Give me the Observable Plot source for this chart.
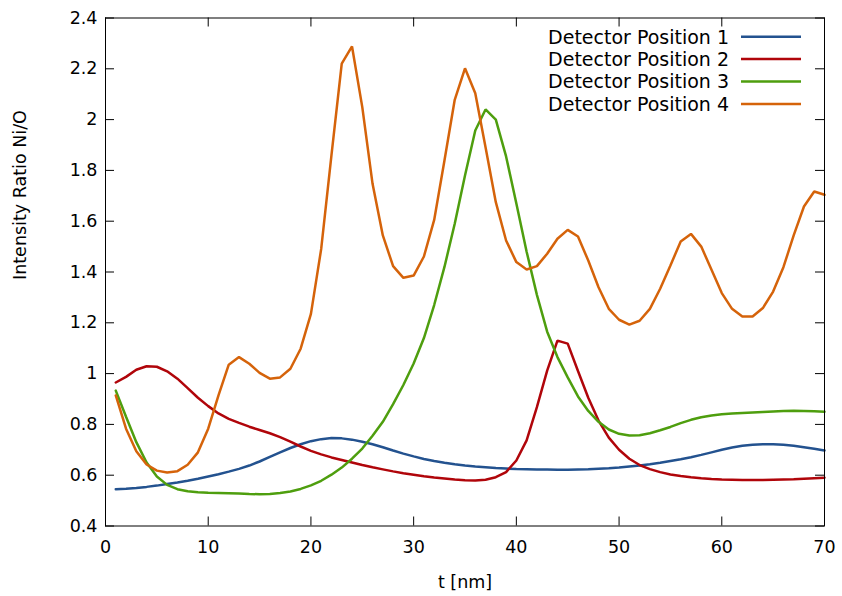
<!DOCTYPE html>
<html>
<head>
<meta charset="utf-8">
<script src="https://cdn.jsdelivr.net/npm/d3@7"></script>
<script src="https://cdn.jsdelivr.net/npm/@observablehq/plot@0.6"></script>
<style>
  body { margin: 0; background: #fff; }
  svg { display: block; }
</style>
</head>
<body>
<div id="chart"></div>
<script>
// Layer thickness t [nm], sampled every 1 nm
const thickness = d3.range(1, 71);

// Ni/O intensity ratio per detector position
const pos1 = [
  0.545, 0.547, 0.550, 0.554, 0.559, 0.565, 0.571, 0.578, 0.586, 0.595,
  0.604, 0.614, 0.625, 0.638, 0.654, 0.672, 0.690, 0.707, 0.722, 0.734,
  0.742, 0.746, 0.745, 0.740, 0.732, 0.722, 0.710, 0.697, 0.685, 0.674,
  0.664, 0.656, 0.649, 0.643, 0.638, 0.634, 0.631, 0.628, 0.626, 0.624,
  0.623, 0.622, 0.622, 0.621, 0.621, 0.622, 0.623, 0.625, 0.627, 0.630,
  0.634, 0.638, 0.643, 0.649, 0.656, 0.663, 0.671, 0.680, 0.690, 0.700,
  0.709, 0.716, 0.720, 0.722, 0.722, 0.720, 0.716, 0.710, 0.704, 0.697
];
const pos2 = [
  0.965, 0.987, 1.015, 1.029, 1.027, 1.009, 0.980, 0.943, 0.905, 0.872,
  0.843, 0.822, 0.806, 0.791, 0.778, 0.765, 0.750, 0.732, 0.713, 0.696,
  0.682, 0.670, 0.660, 0.650, 0.640, 0.631, 0.623, 0.615, 0.608, 0.602,
  0.596, 0.591, 0.587, 0.583, 0.580, 0.579, 0.582, 0.592, 0.612, 0.658,
  0.737, 0.868, 1.012, 1.130, 1.118, 1.010, 0.905, 0.815, 0.748, 0.700,
  0.665, 0.640, 0.624, 0.612, 0.603, 0.597, 0.592, 0.588, 0.585, 0.583,
  0.582, 0.581, 0.581, 0.581, 0.582, 0.583, 0.584, 0.586, 0.588, 0.590
];
const pos3 = [
  0.933, 0.830, 0.730, 0.650, 0.595, 0.562, 0.545, 0.537, 0.533, 0.531,
  0.530, 0.529, 0.528, 0.526, 0.525, 0.526, 0.530, 0.536, 0.546, 0.560,
  0.578, 0.602, 0.630, 0.665, 0.705, 0.755, 0.810, 0.880, 0.955, 1.040,
  1.140, 1.270, 1.420, 1.590, 1.780, 1.957, 2.040, 2.000, 1.855, 1.670,
  1.480, 1.310, 1.165, 1.065, 0.985, 0.910, 0.853, 0.810, 0.780, 0.763,
  0.756, 0.757, 0.765, 0.777, 0.790, 0.805, 0.818, 0.828, 0.835, 0.840,
  0.843, 0.845, 0.847, 0.849, 0.851, 0.853, 0.854, 0.853, 0.852, 0.850
];
const pos4 = [
  0.914, 0.783, 0.694, 0.642, 0.618, 0.611, 0.616, 0.641, 0.690, 0.783,
  0.914, 1.035, 1.065, 1.039, 1.003, 0.980, 0.985, 1.019, 1.098, 1.235,
  1.491, 1.860, 2.220, 2.288, 2.049, 1.747, 1.544, 1.423, 1.377, 1.386,
  1.461, 1.605, 1.839, 2.078, 2.202, 2.104, 1.891, 1.675, 1.524, 1.439,
  1.410, 1.423, 1.472, 1.531, 1.566, 1.540, 1.445, 1.340, 1.255, 1.212,
  1.193, 1.208, 1.255, 1.334, 1.426, 1.520, 1.550, 1.500, 1.409, 1.317,
  1.255, 1.225, 1.225, 1.258, 1.323, 1.419, 1.544, 1.658, 1.717, 1.704
];

const seriesNames = ["Detector Position 1", "Detector Position 2", "Detector Position 3", "Detector Position 4"];
const seriesValues = [pos1, pos2, pos3, pos4];
const seriesColors = ["#23528f", "#b0050a", "#4e9e0e", "#d5630a"];

const xTicks = [0, 10, 20, 30, 40, 50, 60, 70];
const yTicks = [0.4, 0.6, 0.8, 1.0, 1.2, 1.4, 1.6, 1.8, 2.0, 2.2, 2.4];
const yTickLabels = ["0.4", "0.6", "0.8", "1", "1.2", "1.4", "1.6", "1.8", "2", "2.2", "2.4"];

const xLabel = "t [nm]";
const yLabel = "Intensity Ratio Ni/O";

// Long-format table for the line marks
const rows = seriesNames.flatMap((name, k) =>
  thickness.map((t, i) => ({t, v: seriesValues[k][i], series: name}))
);

const W = 842, H = 596;
const M = {top: 17.5, right: 18, bottom: 70.5, left: 105};
const innerW = W - M.left - M.right;
const innerH = H - M.top - M.bottom;
const tickLen = 9;

// Key in the top-right corner: right-aligned names with a line sample
function legendMark(index, scales, values, dim) {
  const g = d3.create("svg:g")
    .attr("font-family", "DejaVu Sans")
    .attr("font-size", 19)
    .attr("fill", "#000");
  const xr = dim.width - dim.marginRight;
  seriesNames.forEach((name, i) => {
    const y = dim.marginTop + 19.2 + i * 22.4;
    g.append("text")
      .attr("x", xr - 95).attr("y", y)
      .attr("dy", "0.36em")
      .attr("text-anchor", "end")
      .text(name);
    g.append("line")
      .attr("x1", xr - 83).attr("x2", xr - 23)
      .attr("y1", y).attr("y2", y)
      .attr("stroke", seriesColors[i])
      .attr("stroke-width", 2.5);
  });
  return g.node();
}

const chart = Plot.plot({
  width: W,
  height: H,
  marginTop: M.top,
  marginRight: M.right,
  marginBottom: M.bottom,
  marginLeft: M.left,
  style: {fontFamily: "DejaVu Sans", fontSize: "17.5px", color: "#000", background: "#fff"},
  x: {domain: [0, 70]},
  y: {domain: [0.4, 2.4]},
  color: {domain: seriesNames, range: seriesColors},
  marks: [
    Plot.axisX({ticks: xTicks, tickSize: 0, tickPadding: 15, label: null, fontSize: 17.5}),
    Plot.axisY({ticks: yTicks, tickSize: 0, tickPadding: 8, label: null, fontSize: 17.5,
      tickFormat: d => yTickLabels[yTicks.indexOf(d)]}),
    // inward ticks on all four sides
    Plot.ruleX(xTicks, {insetTop: innerH - tickLen, stroke: "#000", strokeWidth: 1}),
    Plot.ruleX(xTicks, {insetBottom: innerH - tickLen, stroke: "#000", strokeWidth: 1}),
    Plot.ruleY(yTicks, {insetRight: innerW - tickLen, stroke: "#000", strokeWidth: 1}),
    Plot.ruleY(yTicks, {insetLeft: innerW - tickLen, stroke: "#000", strokeWidth: 1}),
    Plot.line(rows, {x: "t", y: "v", z: "series", stroke: "series",
      strokeWidth: 2.5, strokeLinejoin: "miter"}),
    Plot.frame({stroke: "#000", strokeWidth: 1}),
    Plot.text([xLabel], {frameAnchor: "bottom", dy: 56, fontSize: 17.5, lineAnchor: "middle"}),
    Plot.text([yLabel], {frameAnchor: "left", dx: -85, dy: 8, rotate: -90, fontSize: 17.5, lineAnchor: "middle"}),
    legendMark
  ]
});

document.getElementById("chart").appendChild(chart);
</script>
</body>
</html>
